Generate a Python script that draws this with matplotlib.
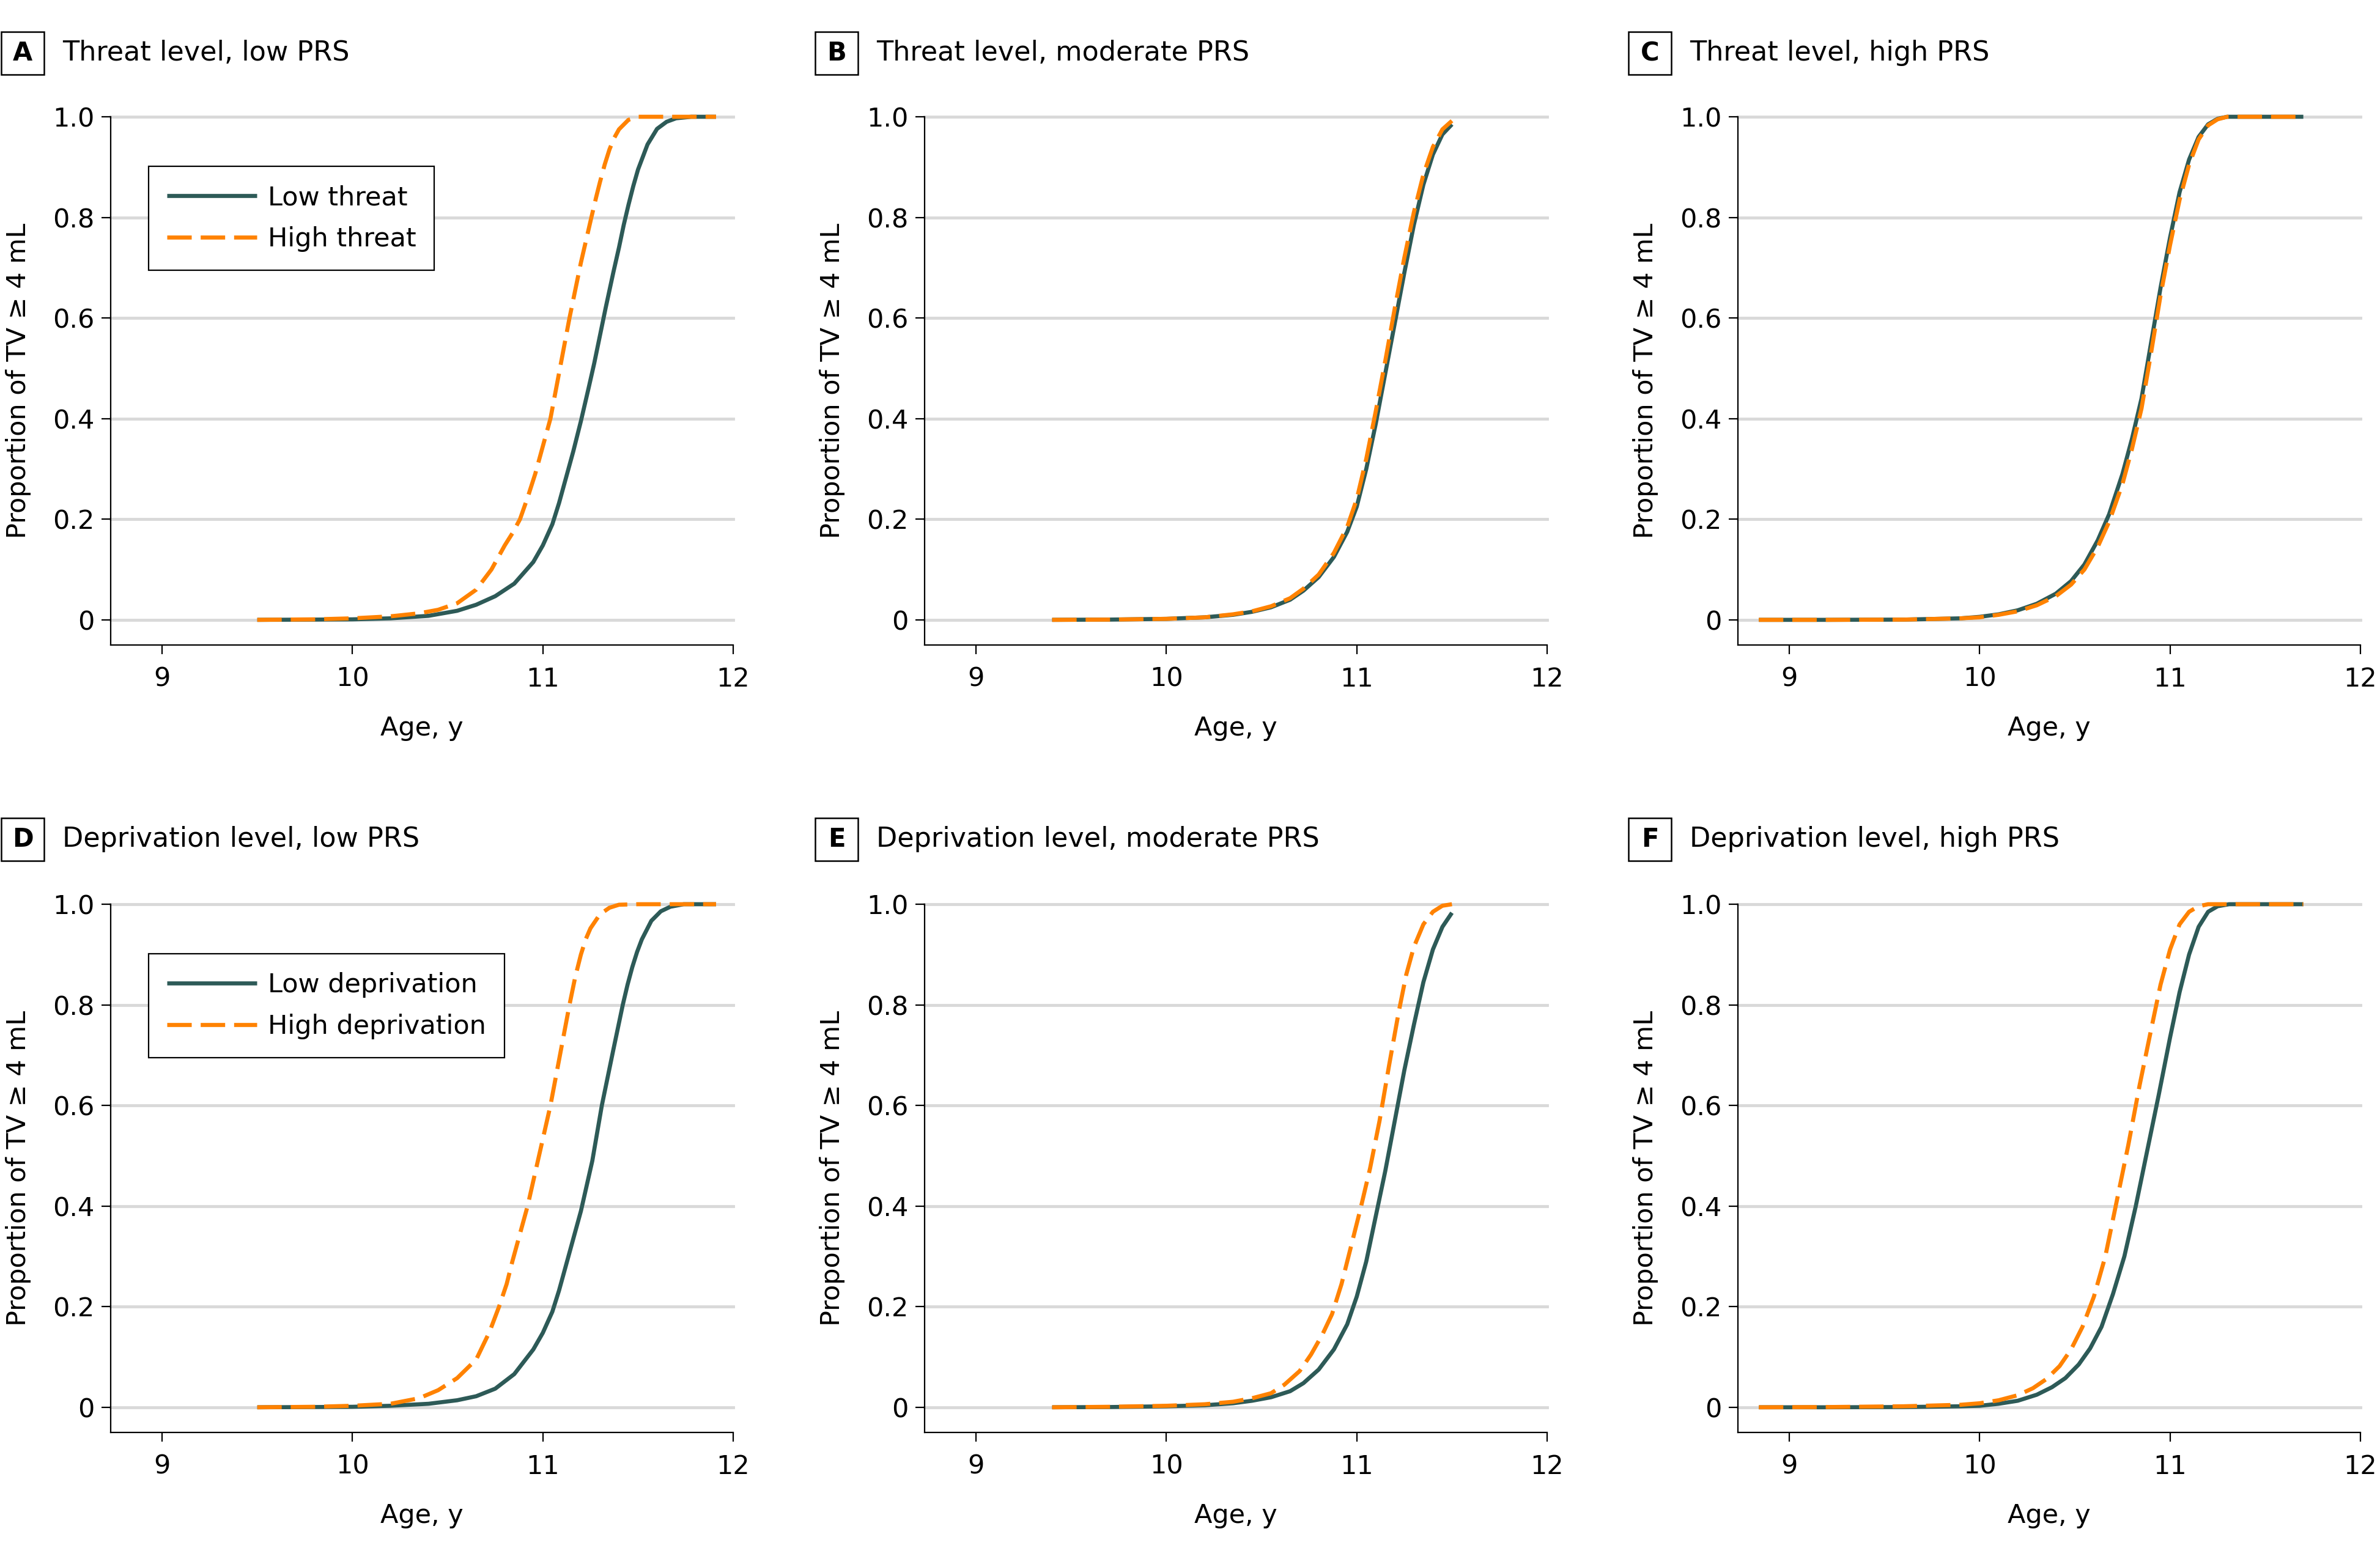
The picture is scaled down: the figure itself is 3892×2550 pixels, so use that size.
import matplotlib
matplotlib.use('Agg')
import matplotlib.pyplot as plt
from matplotlib.patches import Rectangle

plt.rcParams['font.family'] = ['DejaVu Sans']

# ---------------- data ----------------
# Panel A: Threat level, low PRS
a_low_x = [9.5, 9.8, 10.0, 10.2, 10.4, 10.55, 10.65, 10.75, 10.85, 10.95, 11.0, 11.05, 11.085, 11.12,
           11.16, 11.2, 11.24, 11.27, 11.3, 11.33, 11.37, 11.4, 11.425, 11.45, 11.475, 11.5, 11.55,
           11.6, 11.65, 11.7, 11.78, 11.91]
a_low_y = [0, 0.0005, 0.001, 0.003, 0.008, 0.018, 0.03, 0.047, 0.072, 0.115, 0.148, 0.19, 0.232, 0.28,
           0.335, 0.395, 0.46, 0.51, 0.565, 0.62, 0.69, 0.74, 0.785, 0.825, 0.862, 0.895, 0.945,
           0.976, 0.99, 0.997, 1.0, 1.0]
a_high_x = [9.5, 9.8, 10.0, 10.2, 10.35, 10.45, 10.55, 10.65, 10.73, 10.8, 10.84, 10.88, 10.92, 10.96,
            11.0, 11.04, 11.09, 11.14, 11.2, 11.255, 11.28, 11.3, 11.325, 11.35, 11.375, 11.4, 11.45,
            11.5, 11.6, 11.91]
a_high_y = [0, 0.001, 0.003, 0.007, 0.013, 0.02, 0.033, 0.06, 0.10, 0.148, 0.172, 0.2, 0.243, 0.29,
            0.345, 0.40, 0.50, 0.60, 0.71, 0.80, 0.84, 0.87, 0.905, 0.935, 0.958, 0.975, 0.994,
            1.0, 1.0, 1.0]

# Panel B: Threat level, moderate PRS
b_x = [9.4, 9.7, 10.0, 10.2, 10.35, 10.45, 10.55, 10.65, 10.72, 10.8, 10.88, 10.95, 11.0,
       11.05, 11.1, 11.15, 11.2, 11.25, 11.3, 11.35, 11.4, 11.45, 11.5]
b_low_y = [0, 0.0005, 0.002, 0.005, 0.01, 0.016, 0.025, 0.04, 0.058, 0.085, 0.125, 0.175, 0.225,
           0.3, 0.39, 0.49, 0.59, 0.69, 0.785, 0.865, 0.925, 0.965, 0.985]
b_high_y = [0, 0.0005, 0.002, 0.005, 0.011, 0.017, 0.027, 0.043, 0.062, 0.09, 0.133, 0.185, 0.24,
            0.32, 0.415, 0.515, 0.62, 0.72, 0.81, 0.885, 0.94, 0.975, 0.992]

# Panel C: Threat level, high PRS
c_x = [8.84, 9.2, 9.6, 9.9, 10.0, 10.1, 10.2, 10.3, 10.4, 10.48, 10.55, 10.62, 10.68, 10.75,
       10.8, 10.85, 10.9, 10.95, 11.0, 11.05, 11.1, 11.15, 11.2, 11.25, 11.3, 11.4, 11.7]
c_low_y = [0, 0, 0.0005, 0.003, 0.006, 0.011, 0.019, 0.032, 0.052, 0.077, 0.11, 0.158, 0.21, 0.29,
           0.36, 0.44, 0.55, 0.66, 0.76, 0.85, 0.915, 0.96, 0.985, 0.996, 1.0, 1.0, 1.0]
c_high_y = [0, 0, 0.0005, 0.003, 0.005, 0.01, 0.017, 0.029, 0.047, 0.07, 0.1, 0.145, 0.195, 0.27,
            0.34, 0.42, 0.53, 0.645, 0.745, 0.835, 0.905, 0.955, 0.983, 0.995, 1.0, 1.0, 1.0]

# Panel D: Deprivation level, low PRS
d_low_x = [9.5, 9.8, 10.0, 10.2, 10.4, 10.55, 10.65, 10.75, 10.85, 10.95, 11.0, 11.05, 11.085, 11.12,
           11.16, 11.2, 11.26, 11.31, 11.37, 11.42, 11.445, 11.47, 11.495, 11.52, 11.57, 11.62, 11.67,
           11.74, 11.91]
d_low_y = [0, 0.0005, 0.001, 0.003, 0.007, 0.014, 0.022, 0.037, 0.066, 0.115, 0.148, 0.19, 0.232, 0.28,
           0.335, 0.39, 0.49, 0.6, 0.71, 0.80, 0.84, 0.875, 0.905, 0.93, 0.967, 0.986, 0.995,
           1.0, 1.0]
d_high_x = [9.5, 9.8, 10.0, 10.2, 10.35, 10.45, 10.55, 10.65, 10.72, 10.77, 10.81, 10.84, 10.88, 10.92,
            10.98, 11.04, 11.09, 11.14, 11.17, 11.2, 11.225, 11.25, 11.3, 11.35, 11.4, 11.5, 11.91]
d_high_y = [0, 0.001, 0.003, 0.007, 0.018, 0.034, 0.058, 0.095, 0.15, 0.2, 0.245, 0.29, 0.345, 0.40,
            0.50, 0.60, 0.70, 0.80, 0.855, 0.90, 0.93, 0.952, 0.98, 0.993, 0.999, 1.0, 1.0]

# Panel E: Deprivation level, moderate PRS
e_low_x = [9.4, 9.7, 10.0, 10.2, 10.35, 10.45, 10.55, 10.65, 10.72, 10.8, 10.88, 10.95, 11.0,
           11.05, 11.1, 11.15, 11.2, 11.25, 11.3, 11.35, 11.4, 11.45, 11.5]
e_low_y = [0, 0.0005, 0.002, 0.004, 0.008, 0.013, 0.02, 0.032, 0.048, 0.075, 0.115, 0.165, 0.22,
           0.29, 0.38, 0.47, 0.57, 0.67, 0.76, 0.845, 0.91, 0.955, 0.983]
e_high_x = [9.4, 9.7, 10.0, 10.2, 10.35, 10.45, 10.55, 10.62, 10.7, 10.76, 10.82, 10.87, 10.92,
            10.97, 11.02, 11.07, 11.12, 11.17, 11.22, 11.26, 11.3, 11.35, 11.4, 11.45, 11.5]
e_high_y = [0, 0.001, 0.003, 0.006, 0.011, 0.018, 0.028, 0.045, 0.072, 0.105, 0.145, 0.185, 0.245,
            0.32, 0.395, 0.475, 0.57, 0.68, 0.785, 0.86, 0.915, 0.96, 0.985, 0.997, 1.0]

# Panel F: Deprivation level, high PRS
f_low_x = [8.84, 9.2, 9.6, 9.9, 10.0, 10.1, 10.2, 10.3, 10.38, 10.45, 10.52, 10.58, 10.64, 10.7,
           10.76, 10.82, 10.88, 10.94, 11.0, 11.05, 11.1, 11.15, 11.2, 11.25, 11.31, 11.4, 11.7]
f_low_y = [0, 0, 0.0005, 0.002, 0.003, 0.007, 0.013, 0.025, 0.04, 0.058, 0.085, 0.117, 0.16, 0.225,
           0.3, 0.4, 0.51, 0.62, 0.735, 0.825, 0.9, 0.955, 0.985, 0.996, 1.0, 1.0, 1.0]
f_high_x = [8.84, 9.2, 9.6, 9.9, 10.0, 10.1, 10.2, 10.28, 10.35, 10.42, 10.48, 10.54, 10.6, 10.66,
            10.72, 10.78, 10.84, 10.9, 10.95, 11.0, 11.05, 11.1, 11.15, 11.2, 11.3, 11.7]
f_high_y = [0, 0.0005, 0.002, 0.005, 0.008, 0.014, 0.024, 0.038, 0.056, 0.082, 0.115, 0.16, 0.22,
            0.3, 0.41, 0.52, 0.64, 0.75, 0.84, 0.91, 0.96, 0.985, 0.996, 1.0, 1.0, 1.0]

panel_letters = ['A', 'B', 'C', 'D', 'E', 'F']
panel_titles = ['Threat level, low PRS', 'Threat level, moderate PRS', 'Threat level, high PRS',
                'Deprivation level, low PRS', 'Deprivation level, moderate PRS',
                'Deprivation level, high PRS']
threat_labels = ['Low threat', 'High threat']
deprivation_labels = ['Low deprivation', 'High deprivation']
x_ticks = [9, 10, 11, 12]
y_ticks = [0, 0.2, 0.4, 0.6, 0.8, 1.0]
y_ticklabels = ['0', '0.2', '0.4', '0.6', '0.8', '1.0']
x_label = 'Age, y'
y_label = 'Proportion of TV \u2265 4 mL'

# ---------------- figure ----------------
W, H = 3892, 2550
DPI = 100
fig = plt.figure(figsize=(W / DPI, H / DPI), dpi=DPI)

DARK = '#2d5a57'
ORANGE = '#ff8200'
GRID = '#d9d9d9'
FS = 31
LW = 4.8

col_left_px = [181, 1512, 2842]
ax_w_px = 1018
row_top_px = [191, 1479]
ax_h_px = 864
title_y_px = [87, 1373]

series = [
    (a_low_x, a_low_y, a_high_x, a_high_y),
    (b_x, b_low_y, b_x, b_high_y),
    (c_x, c_low_y, c_x, c_high_y),
    (d_low_x, d_low_y, d_high_x, d_high_y),
    (e_low_x, e_low_y, e_high_x, e_high_y),
    (f_low_x, f_low_y, f_high_x, f_high_y),
]

for i in range(6):
    r, c = divmod(i, 3)
    left = col_left_px[c] / W
    bottom = 1 - (row_top_px[r] + ax_h_px) / H
    ax = fig.add_axes([left, bottom, ax_w_px / W, ax_h_px / H])
    lx, ly, hx, hy = series[i]
    labels = threat_labels if r == 0 else deprivation_labels
    ax.set_xlim(8.73, 12)
    ax.set_ylim(-0.05, 1.0)
    for yv in y_ticks:
        ax.axhline(yv, color=GRID, lw=3.5, zorder=0, clip_on=False)
    ax.plot(lx, ly, color=DARK, lw=LW, solid_capstyle='butt', solid_joinstyle='round',
            label=labels[0], clip_on=False, zorder=3)
    ax.plot(hx, hy, color=ORANGE, lw=LW, dashes=(6.0, 2.2), dash_capstyle='butt',
            dash_joinstyle='round', label=labels[1], clip_on=False, zorder=4)
    for s in ['top', 'right']:
        ax.spines[s].set_visible(False)
    for s in ['left', 'bottom']:
        ax.spines[s].set_linewidth(1.6)
    ax.set_xticks(x_ticks)
    ax.set_yticks(y_ticks)
    ax.set_yticklabels(y_ticklabels)
    ax.tick_params(axis='both', direction='out', length=11, width=1.6, labelsize=FS)
    ax.tick_params(axis='y', pad=8)
    ax.tick_params(axis='x', pad=14)
    ax.set_xlabel(x_label, fontsize=FS)
    ax.set_ylabel(y_label, fontsize=FS)
    ax.xaxis.label.set_va('center')
    ax.yaxis.label.set_va('center')
    ax.xaxis.set_label_coords(0.5, -136 / ax_h_px)
    ax.yaxis.set_label_coords(-151 / ax_w_px, 0.5)
    if c == 0:
        leg = ax.legend(loc='upper left', bbox_to_anchor=(62 / ax_w_px, 1 - 81 / ax_h_px),
                        borderaxespad=0, fontsize=FS, frameon=True, fancybox=False,
                        handlelength=3.4, handletextpad=0.42, borderpad=0.7,
                        labelspacing=0.6)
        fr = leg.get_frame()
        fr.set_edgecolor('black')
        fr.set_linewidth(1.6)
        fr.set_alpha(1)
    # panel letter box and title
    cy = title_y_px[r]
    bx = col_left_px[c] - 179
    fig.patches.append(Rectangle((bx / W, 1 - (cy + 35) / H), 70 / W, 70 / H,
                                 transform=fig.transFigure, fc='white', ec='black', lw=1.8))
    fig.text((bx + 35) / W, 1 - cy / H, panel_letters[i], fontsize=FS - 1, fontweight='bold',
             ha='center', va='center')
    fig.text((col_left_px[c] - 79) / W, 1 - cy / H, panel_titles[i], fontsize=FS + 1,
             ha='left', va='center')

fig.savefig('out.png', dpi=DPI)
